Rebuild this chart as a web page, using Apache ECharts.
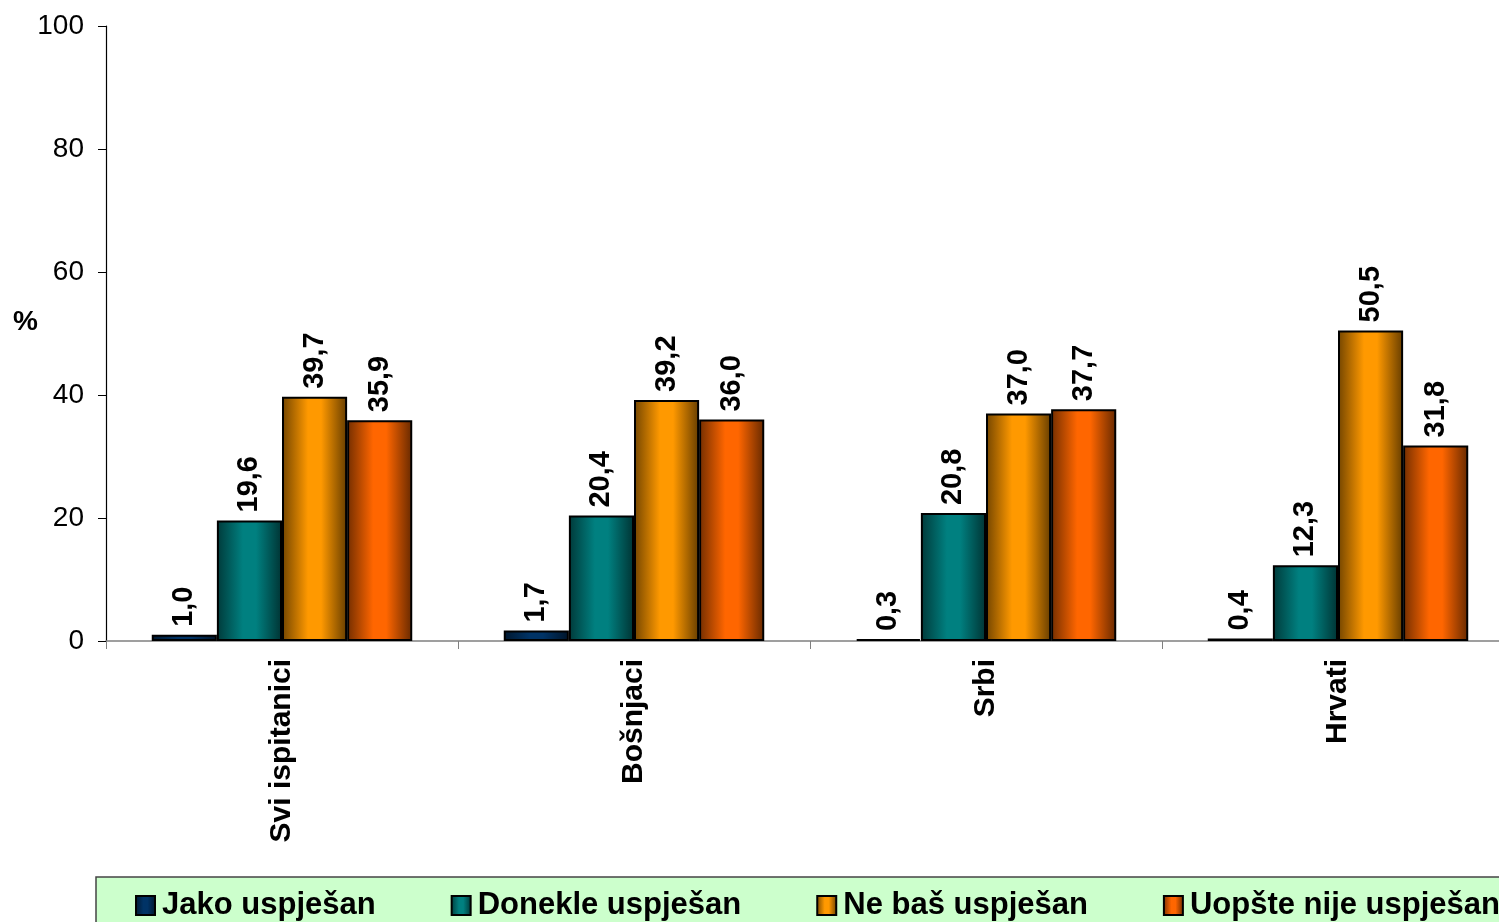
<!DOCTYPE html>
<html>
<head>
<meta charset="utf-8">
<script src="https://cdn.jsdelivr.net/npm/echarts@6/dist/echarts.min.js"></script>
<style>
html,body{margin:0;padding:0;background:#fff;}
#chart{width:1499px;height:922px;}
</style>
</head>
<body>
<div id="chart"></div>
<script>
const categories = ['Svi ispitanici', 'Bošnjaci', 'Srbi', 'Hrvati'];
const seriesNames = ['Jako uspješan', 'Donekle uspješan', 'Ne baš uspješan', 'Uopšte nije uspješan'];
const jakoValues = [1.0, 1.7, 0.3, 0.4];
const donekleValues = [19.6, 20.4, 20.8, 12.3];
const neBasValues = [39.7, 39.2, 37.0, 50.5];
const uopsteValues = [35.9, 36.0, 37.7, 31.8];
const yTicks = [0, 20, 40, 60, 80, 100];

const baseColors = ['#003366', '#008080', '#FF9900', '#FF6600'];
const allValues = [jakoValues, donekleValues, neBasValues, uopsteValues];

function shade(hex, f) {
  const n = parseInt(hex.slice(1), 16);
  const r = Math.round(((n >> 16) & 255) * f);
  const g = Math.round(((n >> 8) & 255) * f);
  const b = Math.round((n & 255) * f);
  return 'rgb(' + r + ',' + g + ',' + b + ')';
}
function grad(hex) {
  return new echarts.graphic.LinearGradient(0, 0, 1, 0, [
    { offset: 0, color: shade(hex, 0.45) },
    { offset: 0.4, color: hex },
    { offset: 0.6, color: hex },
    { offset: 1, color: shade(hex, 0.4) }
  ]);
}
const fmt = v => v.toFixed(1).replace('.', ',');

const chart = echarts.init(document.getElementById('chart'));
const series = seriesNames.map((name, i) => ({
  name: name,
  type: 'bar',
  data: allValues[i],
  barGap: '0%',
  barCategoryGap: '26%',
  itemStyle: { color: grad(baseColors[i]), borderColor: '#000', borderWidth: 2 },
  label: {
    show: true,
    position: 'top',
    rotate: 90,
    align: 'left',
    verticalAlign: 'middle',
    distance: 8,
    color: '#000',
    fontFamily: 'Liberation Sans, Arial, sans-serif',
    fontWeight: 'bold',
    fontSize: 29,
    formatter: p => fmt(p.value)
  }
}));

chart.setOption({
  animation: false,
  backgroundColor: '#fff',
  grid: { left: 106, top: 26, width: 1408, height: 615, containLabel: false, outerBoundsMode: 'none' },
  xAxis: {
    type: 'category',
    data: categories,
    axisLine: { lineStyle: { color: '#808080', width: 1.5 } },
    axisTick: { show: true, length: 8, lineStyle: { color: '#808080' } },
    axisLabel: {
      rotate: 90,
      margin: 18,
      color: '#000',
      fontFamily: 'Liberation Sans, Arial, sans-serif',
      fontWeight: 'bold',
      fontSize: 30
    }
  },
  yAxis: {
    type: 'value',
    min: yTicks[0],
    max: yTicks[yTicks.length - 1],
    interval: 20,
    axisLine: { show: true, lineStyle: { color: '#000', width: 1.2 } },
    axisTick: { show: true, length: 8, lineStyle: { color: '#000' } },
    splitLine: { show: false },
    axisLabel: {
      margin: 22,
      color: '#000',
      fontFamily: 'Liberation Sans, Arial, sans-serif',
      fontSize: 28
    }
  },
  legend: {
    data: seriesNames,
    left: 135,
    top: 890,
    padding: 0,
    width: 1700,
    z: 10,
    icon: 'rect',
    itemWidth: 19,
    itemHeight: 19,
    itemGap: 75,
    itemStyle: { borderColor: '#000', borderWidth: 2 },
    textStyle: {
      color: '#000',
      fontFamily: 'Liberation Sans, Arial, sans-serif',
      fontWeight: 'bold',
      fontSize: 31,
      padding: [0, 0, 0, 2]
    }
  },
  graphic: [
    {
      type: 'rect',
      z: 0,
      shape: { x: 96, y: 877, width: 1420, height: 60 },
      style: { fill: '#CCFFCC', stroke: '#444', lineWidth: 1.5 }
    },
    {
      type: 'text',
      left: 13,
      top: 308,
      style: {
        text: '%',
        fill: '#000',
        font: 'bold 28px "Liberation Sans", Arial, sans-serif'
      }
    }
  ],
  series: series
});
</script>
</body>
</html>
